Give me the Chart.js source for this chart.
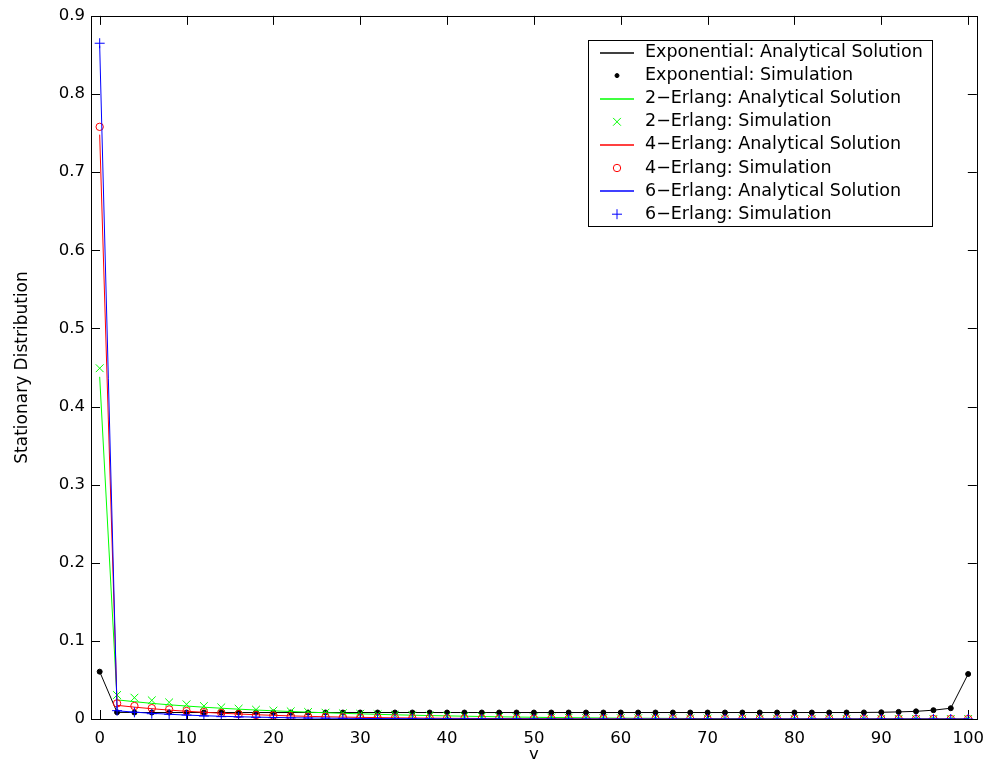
<!DOCTYPE html>
<html>
<head>
<meta charset="utf-8">
<script src="https://cdn.jsdelivr.net/npm/chart.js@4/dist/chart.umd.min.js"></script>
<style>
html,body{margin:0;padding:0;background:#fff;}
canvas{display:block;}
</style>
</head>
<body>
<canvas id="c" width="994" height="765"></canvas>
<script>
// ---- data ----
const vValues = [0,2,4,6,8,10,12,14,16,18,20,22,24,26,28,30,32,34,36,38,40,42,44,46,48,50,52,54,56,58,60,62,64,66,68,70,72,74,76,78,80,82,84,86,88,90,92,94,96,98,100];
const xTickValues = [0,10,20,30,40,50,60,70,80,90,100];
const yTickValues = [0,0.1,0.2,0.3,0.4,0.5,0.6,0.7,0.8,0.9];

const expAnalytical = [0.0606,0.0085,0.0083,0.0083,0.0083,0.0083,0.0083,0.0083,0.0083,0.0083,0.0083,0.0083,0.0083,0.0083,0.0083,0.0083,0.0083,0.0083,0.0083,0.0083,0.0083,0.0083,0.0083,0.0083,0.0083,0.0083,0.0083,0.0083,0.0083,0.0083,0.0083,0.0083,0.0083,0.0083,0.0083,0.0083,0.0083,0.0083,0.0083,0.0083,0.0083,0.0083,0.0083,0.0083,0.0084,0.0086,0.0091,0.0098,0.0113,0.0138,0.0576];
const expSimulation = [0.0606,0.0086,0.0083,0.0083,0.0083,0.0083,0.0083,0.0083,0.0083,0.0083,0.0083,0.0083,0.0083,0.0083,0.0083,0.0083,0.0083,0.0083,0.0083,0.0083,0.0083,0.0083,0.0083,0.0083,0.0083,0.0083,0.0083,0.0083,0.0083,0.0083,0.0083,0.0083,0.0083,0.0083,0.0083,0.0083,0.0083,0.0083,0.0083,0.0083,0.0083,0.0083,0.0083,0.0083,0.0084,0.0086,0.0091,0.0098,0.0113,0.0138,0.0576];

const erl2Analytical = [0.438,0.0245,0.0222,0.0200,0.0182,0.0166,0.0151,0.0138,0.0126,0.0115,0.0105,0.0096,0.0088,0.0080,0.0073,0.0066,0.0060,0.0054,0.0049,0.0044,0.0040,0.0036,0.0032,0.0028,0.0025,0.0022,0.0019,0.0017,0.0015,0.0013,0.0011,0.0010,0.0009,0.0008,0.0007,0.0006,0.0005,0.0005,0.0004,0.0004,0.0003,0.0003,0.0003,0.0002,0.0002,0.0002,0.0002,0.0001,0.0001,0.0001,0.0001];
const erl2Simulation = [0.449,0.0307,0.0273,0.0239,0.0213,0.0188,0.0166,0.0149,0.0132,0.0119,0.0107,0.0098,0.0090,0.0081,0.0073,0.0066,0.0060,0.0054,0.0049,0.0044,0.0040,0.0036,0.0032,0.0028,0.0025,0.0022,0.0019,0.0017,0.0015,0.0013,0.0011,0.0010,0.0009,0.0008,0.0007,0.0006,0.0005,0.0005,0.0004,0.0004,0.0003,0.0003,0.0003,0.0002,0.0002,0.0002,0.0002,0.0001,0.0001,0.0001,0.0001];

const erl4Analytical = [0.748,0.0175,0.0152,0.0132,0.0114,0.0099,0.0086,0.0074,0.0064,0.0055,0.0047,0.0040,0.0034,0.0029,0.0025,0.0021,0.0018,0.0015,0.0013,0.0011,0.0009,0.0008,0.0007,0.0006,0.0005,0.0004,0.0003,0.0003,0.0002,0.0002,0.0002,0.0001,0.0001,0.0001,0.0001,0.0001,0,0,0,0,0,0,0,0,0,0,0,0,0,0,0];
const erl4Simulation = [0.758,0.0200,0.0166,0.0139,0.0122,0.0102,0.0088,0.0077,0.0062,0.0050,0.0045,0.0036,0.0030,0.0027,0.0022,0.0018,0.0015,0.0013,0.0011,0.0009,0.0008,0.0007,0.0006,0.0005,0.0004,0.0003,0.0003,0.0002,0.0002,0.0002,0.0001,0.0001,0.0001,0.0001,0.0001,0,0,0,0,0,0,0,0,0,0,0,0,0,0,0,0];

const erl6Analytical = [0.862,0.0105,0.0088,0.0073,0.0061,0.0050,0.0042,0.0035,0.0029,0.0024,0.0020,0.0016,0.0013,0.0011,0.0009,0.0007,0.0006,0.0005,0.0004,0.0003,0.0003,0.0002,0.0002,0.0001,0.0001,0.0001,0,0,0,0,0,0,0,0,0,0,0,0,0,0,0,0,0,0,0,0,0,0,0,0,0];
const erl6Simulation = [0.865,0.0107,0.0086,0.0068,0.0060,0.0051,0.0038,0.0030,0.0026,0.0022,0.0017,0.0014,0.0012,0.0010,0.0008,0.0007,0.0006,0.0005,0.0004,0.0003,0.0003,0.0002,0.0002,0.0001,0.0001,0.0001,0,0,0,0,0,0,0,0,0,0,0,0,0,0,0,0,0,0,0,0,0,0,0,0,0];

const seriesLabels = [
  'Exponential: Analytical Solution','Exponential: Simulation',
  '2\u2212Erlang: Analytical Solution','2\u2212Erlang: Simulation',
  '4\u2212Erlang: Analytical Solution','4\u2212Erlang: Simulation',
  '6\u2212Erlang: Analytical Solution','6\u2212Erlang: Simulation'
];
const xTitle = 'v';
const yTitle = 'Stationary Distribution';

// ---- build datasets ----
const pts = arr => vValues.map((v, i) => ({x: v, y: arr[i]}));
function lineDs(label, arr, color, order) {
  return {label, data: pts(arr), showLine: true, borderColor: color, backgroundColor: color,
    borderWidth: 1, pointRadius: 0, pointHoverRadius: 0, order};
}
function markDs(label, arr, color, style, r, fill, order) {
  return {label, data: pts(arr), showLine: false, borderColor: color, backgroundColor: fill,
    borderWidth: 1, pointStyle: style, pointRadius: r, pointHoverRadius: r, order};
}
const datasets = [
  lineDs(seriesLabels[0], expAnalytical, '#000000', 7),
  markDs(seriesLabels[1], expSimulation, '#000000', 'circle', 2.5, '#000000', 6),
  lineDs(seriesLabels[2], erl2Analytical, '#00ff00', 5),
  markDs(seriesLabels[3], erl2Simulation, '#00ff00', 'crossRot', 5.5, 'rgba(0,0,0,0)', 4),
  lineDs(seriesLabels[4], erl4Analytical, '#ff0000', 3),
  markDs(seriesLabels[5], erl4Simulation, '#ff0000', 'circle', 3.7, 'rgba(0,0,0,0)', 2),
  lineDs(seriesLabels[6], erl6Analytical, '#0000ff', 1),
  markDs(seriesLabels[7], erl6Simulation, '#0000ff', 'cross', 5, 'rgba(0,0,0,0)', 0)
];

// legend description (styles only)
const legendItems = [
  {kind: 'line', color: '#000000'},
  {kind: 'mark', color: '#000000', style: 'circle', r: 2, fill: '#000000'},
  {kind: 'line', color: '#00ff00'},
  {kind: 'mark', color: '#00ff00', style: 'crossRot', r: 5.5, fill: 'rgba(0,0,0,0)'},
  {kind: 'line', color: '#ff0000'},
  {kind: 'mark', color: '#ff0000', style: 'circle', r: 3.7, fill: 'rgba(0,0,0,0)'},
  {kind: 'line', color: '#0000ff'},
  {kind: 'mark', color: '#0000ff', style: 'cross', r: 5, fill: 'rgba(0,0,0,0)'}
];

function drawMarker(ctx, style, r, x, y, stroke, fill) {
  ctx.save();
  ctx.lineWidth = 1; ctx.strokeStyle = stroke; ctx.fillStyle = fill;
  ctx.beginPath();
  if (style === 'circle') {
    ctx.arc(x, y, r, 0, Math.PI * 2);
    ctx.fill(); ctx.stroke();
  } else if (style === 'cross') {
    ctx.moveTo(x - r, y); ctx.lineTo(x + r, y);
    ctx.moveTo(x, y - r); ctx.lineTo(x, y + r);
    ctx.stroke();
  } else if (style === 'crossRot') {
    const d = r * Math.SQRT1_2;
    ctx.moveTo(x - d, y - d); ctx.lineTo(x + d, y + d);
    ctx.moveTo(x + d, y - d); ctx.lineTo(x - d, y + d);
    ctx.stroke();
  }
  ctx.restore();
}

const TICK_LEN = 9;
const axesTicks = {
  id: 'axesTicks',
  beforeDatasetsDraw(chart) {
    const {ctx, chartArea: a, scales: {x, y}} = chart;
    ctx.save();
    ctx.strokeStyle = '#000'; ctx.lineWidth = 1;
    ctx.beginPath();
    xTickValues.forEach(t => {
      const px = Math.round(x.getPixelForValue(t)) + 0.5;
      ctx.moveTo(px, a.bottom); ctx.lineTo(px, a.bottom - TICK_LEN);
      ctx.moveTo(px, a.top); ctx.lineTo(px, a.top + TICK_LEN);
    });
    yTickValues.forEach(t => {
      const py = Math.round(y.getPixelForValue(t)) + 0.5;
      ctx.moveTo(a.left, py); ctx.lineTo(a.left + TICK_LEN, py);
      ctx.moveTo(a.right, py); ctx.lineTo(a.right - TICK_LEN, py);
    });
    ctx.stroke();
    ctx.restore();
  },
  afterDraw(chart) {
    const {ctx, chartArea: a} = chart;
    ctx.save();
    ctx.strokeStyle = '#000'; ctx.lineWidth = 1;
    ctx.strokeRect(Math.round(a.left) + 0.5, Math.round(a.top) + 0.5,
      Math.round(a.right - a.left), Math.round(a.bottom - a.top));
    // legend box
    const bx = 588, by = 40, bw = 344, bh = 186;
    ctx.fillStyle = '#fff';
    ctx.fillRect(bx, by, bw, bh);
    ctx.strokeStyle = '#000';
    ctx.strokeRect(bx + 0.5, by + 0.5, bw, bh);
    ctx.font = '17.5px "DejaVu Sans"';
    ctx.textBaseline = 'middle';
    ctx.textAlign = 'left';
    legendItems.forEach((it, i) => {
      const cy = 52.5 + i * 23.1;
      if (it.kind === 'line') {
        ctx.save();
        ctx.beginPath();
        ctx.strokeStyle = it.color;
        ctx.lineWidth = 1.3;
        ctx.moveTo(600, Math.round(cy));
        ctx.lineTo(634, Math.round(cy));
        ctx.stroke();
        ctx.restore();
      } else {
        drawMarker(ctx, it.style, it.r, 617, cy, it.color, it.fill);
      }
      ctx.fillStyle = '#000';
      ctx.fillText(seriesLabels[i], 645, cy);
    });
    ctx.restore();
  }
};

Chart.defaults.font.family = '"DejaVu Sans", sans-serif';
Chart.defaults.color = '#000';

new Chart(document.getElementById('c'), {
  type: 'scatter',
  data: {datasets},
  options: {
    responsive: false,
    animation: false,
    devicePixelRatio: 1,
    events: [],
    layout: {padding: {left: 0, right: 11, top: 15, bottom: 0}},
    plugins: {legend: {display: false}, tooltip: {enabled: false}},
    scales: {
      x: {
        type: 'linear', min: -1, max: 101,
        grid: {display: false, drawTicks: false},
        border: {display: false},
        ticks: {font: {size: 16.5}, padding: 10, maxRotation: 0, autoSkip: false},
        afterBuildTicks: s => { s.ticks = xTickValues.map(v => ({value: v})); },
        afterFit: s => { s.height = 46; },
        title: {display: true, text: xTitle, font: {size: 16.5}, padding: {top: 0, bottom: 0}}
      },
      y: {
        type: 'linear', min: 0, max: 0.9,
        grid: {display: false, drawTicks: false},
        border: {display: false},
        ticks: {font: {size: 16.5}, padding: 6, autoSkip: false,
          callback: v => String(Math.round(v * 10) / 10)},
        afterBuildTicks: s => { s.ticks = yTickValues.map(v => ({value: v})); },
        afterFit: s => { s.width = 91; },
        title: {display: true, text: yTitle, font: {size: 17}, padding: {top: 12, bottom: 0}}
      }
    }
  },
  plugins: [axesTicks]
});
</script>
</body>
</html>
